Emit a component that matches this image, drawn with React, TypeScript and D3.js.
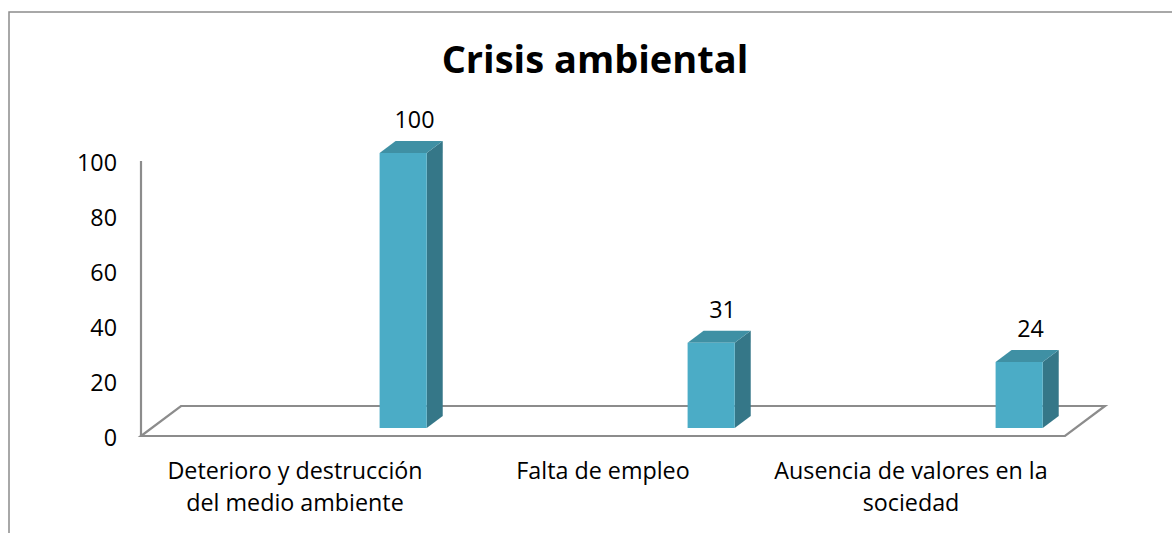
import React, { useEffect, useRef } from 'react';
import * as d3 from 'd3';

const title = 'Crisis ambiental';
const categories = [
  'Deterioro y destrucción del medio ambiente',
  'Falta de empleo',
  'Ausencia de valores en la sociedad',
];
const values = [100, 31, 24];
const yTicks = [0, 20, 40, 60, 80, 100];

const W = 1172;
const H = 533;
const plot = { left: 141, right: 1065, bottom: 436, top: 161 };
const depth = { dx: 40, dy: -30 };
const barZ = [0.267, 0.667];
const barPos = { offset: 0.74, width: 0.153 };
const colors = { front: '#4BACC6', side: '#357788', top: '#3F90A4', axis: '#8C8C8C' };
const font = '"Open Sans", "Noto Sans", sans-serif';
const fs = 23.3;

export default function App() {
  const ref = useRef<SVGSVGElement>(null);
  useEffect(() => {
    document.body.style.margin = '0';
    const svg = d3.select(ref.current);
    svg.selectAll('*').remove();

    const x = d3.scaleBand<string>().domain(categories).range([plot.left, plot.right]).padding(0);
    const y = d3.scaleLinear().domain([0, 100]).range([plot.bottom, plot.top]);
    const bw = x.bandwidth();
    const proj = (px: number, v: number, z: number): [number, number] => [px + depth.dx * z, y(v) + depth.dy * z];
    const poly = (pts: [number, number][]) => pts.map((p) => p.join(',')).join(' ');

    // outer chart border (extends beyond view)
    svg.append('rect')
      .attr('x', 9).attr('y', 12).attr('width', W + 40).attr('height', H + 40)
      .attr('fill', 'white').attr('stroke', colors.axis).attr('stroke-width', 1.5);

    // title
    svg.append('text')
      .attr('x', 595).attr('y', 73)
      .attr('text-anchor', 'middle')
      .attr('font-family', font).attr('font-weight', 'bold').attr('font-size', 38)
      .attr('fill', '#000')
      .text(title);

    // floor
    svg.append('polygon')
      .attr('points', poly([
        proj(plot.left, 0, 0), proj(plot.right, 0, 0), proj(plot.right, 0, 1), proj(plot.left, 0, 1),
      ]))
      .attr('fill', 'white').attr('stroke', colors.axis).attr('stroke-width', 2.2)
      .attr('stroke-linejoin', 'miter');

    // y axis line
    svg.append('line')
      .attr('x1', plot.left).attr('x2', plot.left)
      .attr('y1', y(0)).attr('y2', y(100))
      .attr('stroke', colors.axis).attr('stroke-width', 2.2);

    // y tick labels
    svg.append('g').selectAll('text').data(yTicks).join('text')
      .attr('x', 117).attr('y', (d) => y(d) + 9.5)
      .attr('text-anchor', 'end')
      .attr('font-family', font).attr('font-size', fs).attr('fill', '#000')
      .text((d) => String(d));

    // bars
    const g = svg.append('g');
    categories.forEach((c, i) => {
      const v = values[i];
      const x0 = (x(c) as number) + barPos.offset * bw;
      const x1 = x0 + barPos.width * bw;
      const [z0, z1] = barZ;
      g.append('polygon')
        .attr('points', poly([proj(x1, 0, z0), proj(x1, 0, z1), proj(x1, v, z1), proj(x1, v, z0)]))
        .attr('fill', colors.side);
      g.append('polygon')
        .attr('points', poly([proj(x0, v, z0), proj(x1, v, z0), proj(x1, v, z1), proj(x0, v, z1)]))
        .attr('fill', colors.top);
      g.append('polygon')
        .attr('points', poly([proj(x0, 0, z0), proj(x1, 0, z0), proj(x1, v, z0), proj(x0, v, z0)]))
        .attr('fill', colors.front);
      const lp = proj((x0 + x1) / 2, v, 0.55);
      g.append('text')
        .attr('x', lp[0]).attr('y', proj(x0, v, z1)[1] - 13)
        .attr('text-anchor', 'middle')
        .attr('font-family', font).attr('font-size', fs).attr('fill', '#000')
        .text(String(v));
    });

    // category labels with wrapping
    const maxW = 285;
    categories.forEach((c) => {
      const cx = (x(c) as number) + bw / 2;
      const t = svg.append('text')
        .attr('x', cx).attr('y', 479)
        .attr('text-anchor', 'middle')
        .attr('font-family', font).attr('font-size', fs).attr('fill', '#000');
      const words = c.split(' ');
      let line: string[] = [];
      let tspan = t.append('tspan').attr('x', cx).attr('dy', 0);
      words.forEach((w) => {
        line.push(w);
        tspan.text(line.join(' '));
        const len = (tspan.node() as SVGTSpanElement).getComputedTextLength();
        if (len > maxW && line.length > 1) {
          line.pop();
          tspan.text(line.join(' '));
          line = [w];
          tspan = t.append('tspan').attr('x', cx).attr('dy', 32).text(w);
        }
      });
    });
  }, []);
  return <svg ref={ref} width={W} height={H} style={{ display: 'block', overflow: 'hidden' }} />;
}
